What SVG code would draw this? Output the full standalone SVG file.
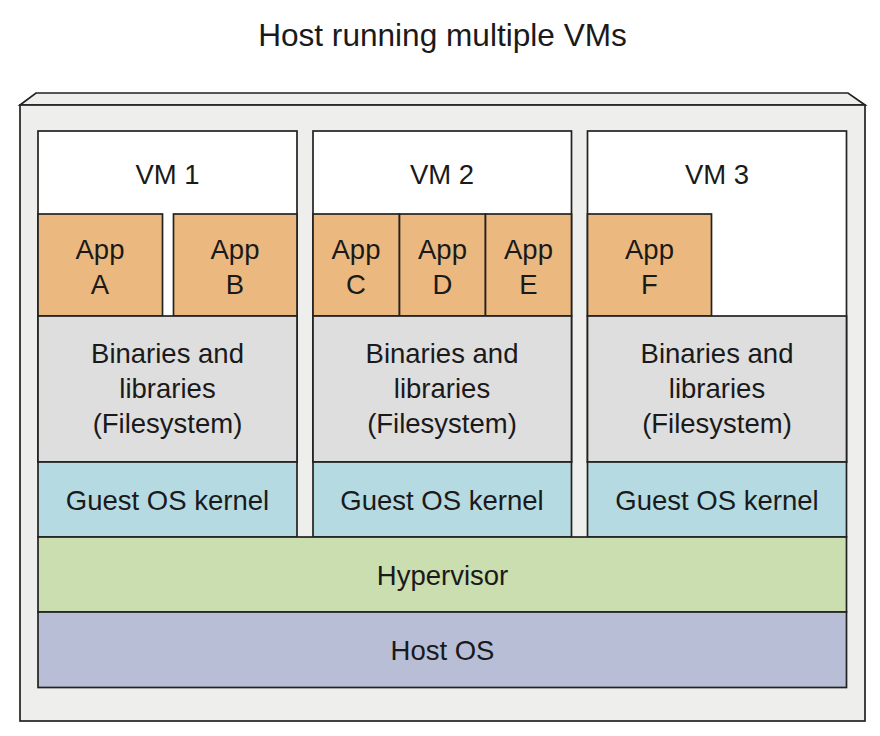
<svg xmlns="http://www.w3.org/2000/svg" width="880" height="736" viewBox="0 0 880 736">
<style>
  .box { stroke: #222; stroke-width: 1.7; }
  .host { fill: #eeeeed; }
  .vm { fill: #ffffff; }
  .app { fill: #ebb87f; }
  .bin { fill: #dedede; }
  .guest { fill: #b5dae1; }
  .hyp { fill: #cadeaf; }
  .hostos { fill: #b8bed5; }
  text { font-family: "Liberation Sans", Arial, Helvetica, sans-serif; font-size: 27.5px; fill: #1a1a1a; text-anchor: middle; }
  .title { font-size: 31.6px; }
</style>
<rect width="880" height="736" fill="#ffffff"/>
<text class="title" x="442.5" y="46">Host running multiple VMs</text>

<g id="host">
  <polygon class="box host" points="20,105 36,93 848,93 865,105"/>
  <rect class="box host" x="20" y="105" width="845" height="616"/>
</g>

<g id="vm1">
  <rect class="box vm" x="38" y="131" width="259" height="331"/>
  <text x="167.5" y="184">VM 1</text>
</g>
<g id="appA">
  <rect class="box app" x="38" y="214" width="124.5" height="102"/>
  <text x="100" y="259">App</text>
  <text x="100" y="294">A</text>
</g>
<g id="appB">
  <rect class="box app" x="173.5" y="214" width="123.5" height="102"/>
  <text x="235" y="259">App</text>
  <text x="235" y="294">B</text>
</g>
<g id="bin1">
  <rect class="box bin" x="38" y="316" width="259" height="146"/>
  <text x="167.5" y="363">Binaries and</text>
  <text x="167.5" y="398">libraries</text>
  <text x="167.5" y="433">(Filesystem)</text>
</g>
<g id="guest1">
  <rect class="box guest" x="38" y="462" width="259" height="75"/>
  <text x="167.5" y="510">Guest OS kernel</text>
</g>

<g id="vm2">
  <rect class="box vm" x="313" y="131" width="258.5" height="331"/>
  <text x="442" y="184">VM 2</text>
</g>
<g id="appC">
  <rect class="box app" x="313" y="214" width="86.5" height="102"/>
  <text x="356" y="259">App</text>
  <text x="356" y="294">C</text>
</g>
<g id="appD">
  <rect class="box app" x="399.5" y="214" width="86" height="102"/>
  <text x="442.5" y="259">App</text>
  <text x="442.5" y="294">D</text>
</g>
<g id="appE">
  <rect class="box app" x="485.5" y="214" width="86" height="102"/>
  <text x="528.5" y="259">App</text>
  <text x="528.5" y="294">E</text>
</g>
<g id="bin2">
  <rect class="box bin" x="313" y="316" width="258.5" height="146"/>
  <text x="442" y="363">Binaries and</text>
  <text x="442" y="398">libraries</text>
  <text x="442" y="433">(Filesystem)</text>
</g>
<g id="guest2">
  <rect class="box guest" x="313" y="462" width="258.5" height="75"/>
  <text x="442" y="510">Guest OS kernel</text>
</g>

<g id="vm3">
  <rect class="box vm" x="587.5" y="131" width="259" height="331"/>
  <text x="717" y="184">VM 3</text>
</g>
<g id="appF">
  <rect class="box app" x="587.5" y="214" width="124" height="102"/>
  <text x="649.5" y="259">App</text>
  <text x="649.5" y="294">F</text>
</g>
<g id="bin3">
  <rect class="box bin" x="587.5" y="316" width="259" height="146"/>
  <text x="717" y="363">Binaries and</text>
  <text x="717" y="398">libraries</text>
  <text x="717" y="433">(Filesystem)</text>
</g>
<g id="guest3">
  <rect class="box guest" x="587.5" y="462" width="259" height="75"/>
  <text x="717" y="510">Guest OS kernel</text>
</g>

<g id="hypervisor">
  <rect class="box hyp" x="38" y="537" width="808.5" height="75"/>
  <text x="442.5" y="585">Hypervisor</text>
</g>
<g id="hostos">
  <rect class="box hostos" x="38" y="612" width="808.5" height="75.5"/>
  <text x="442.5" y="660">Host OS</text>
</g>
</svg>
